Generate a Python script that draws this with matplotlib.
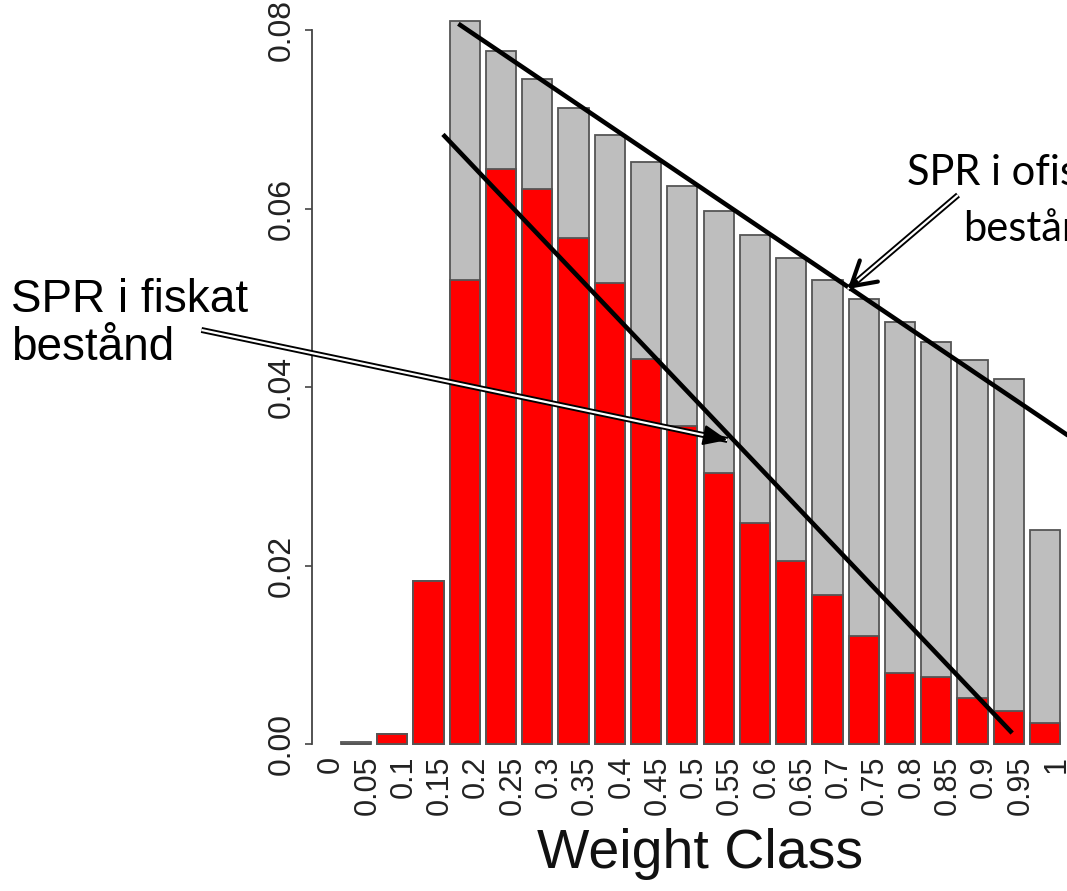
"""
SPR per weight class: unfished (grey) vs fished (red) stock,
with slide-style trend lines and arrows on top.
"""
import matplotlib
matplotlib.use('Agg')
import numpy as np
import matplotlib.pyplot as plt

# ---------------- data ----------------
class_labels = ['0', '0.05', '0.1', '0.15', '0.2', '0.25', '0.3', '0.35', '0.4',
                '0.45', '0.5', '0.55', '0.6', '0.65', '0.7', '0.75', '0.8',
                '0.85', '0.9', '0.95', '1']

# SPR, unfished stock (grey) - one bar per weight bin
spr_unfished = [0.0002, 0.0011, 0.0183, 0.0810, 0.0776, 0.0745, 0.0713,
                0.0682, 0.0652, 0.0625, 0.0597, 0.0570, 0.0545, 0.0520,
                0.0499, 0.0473, 0.0450, 0.0430, 0.0409, 0.0240]

# SPR, fished stock (red)
spr_fished = [0.00005, 0.0011, 0.0183, 0.0520, 0.0644, 0.0622, 0.0567,
              0.0516, 0.0431, 0.0356, 0.0304, 0.0248, 0.0205, 0.0167,
              0.0121, 0.0080, 0.0075, 0.0052, 0.0037, 0.0024]

y_ticks = [0.00, 0.02, 0.04, 0.06, 0.08]

# hand-drawn overlay lines (data coordinates of the bar plot)
upper_line = ([4.09, 24.9], [0.0807, 0.0331])
lower_line = ([3.58, 22.41], [0.0683, 0.00123])
arrow_fished = ((-4.41, 0.04639), (12.99, 0.03406))     # tail, tip
arrow_unfished = ((20.62, 0.06151), (16.97, 0.05098))   # tail, tip

W, H = 1067, 891


def fx(px):
    return px / W


def fy(py):
    return 1 - py / H


fig = plt.figure(figsize=(W / 100, H / 100), dpi=100)
ax = fig.add_axes([fx(312), fy(750), (1089 - 312) / W, 750 / H])

# R barplot geometry: width 1, space 0.2
n = len(spr_unfished)
centers = 0.7 + 1.2 * np.arange(n)
ax.bar(centers, spr_unfished, width=1.0, color='#BEBEBE',
       edgecolor='#555555', linewidth=1.3, zorder=2)
ax.bar(centers, spr_fished, width=1.0, color='#FF0000',
       edgecolor='#555555', linewidth=1.3, zorder=3)

ax.set_xlim(-0.752, 24.952)
ax.set_ylim(-6 / 8925, 744 / 8925)

for s in ['top', 'right', 'bottom']:
    ax.spines[s].set_visible(False)
ax.spines['left'].set_bounds(0, 0.08)
ax.spines['left'].set_color('#444444')
ax.spines['left'].set_linewidth(1.3)

ax.set_yticks(y_ticks)
ax.set_yticklabels([f'{v:.2f}' for v in y_ticks], rotation=90, va='center',
                   fontsize=23, color='#222222', family='Liberation Sans')
ax.tick_params(axis='y', direction='out', length=5, width=1.2,
               color='#444444', pad=6)

ax.set_xticks(1.2 * np.arange(len(class_labels)) - 0.12)
ax.set_xticklabels(class_labels, rotation=90, ha='center', va='top',
                   fontsize=22, color='#222222', family='Liberation Sans')
ax.tick_params(axis='x', length=0, pad=4)

fig.text(fx(700), fy(868), 'Weight Class', ha='center', va='baseline',
         fontsize=40, color='#111111', family='Liberation Sans')

# ---------------- slide annotations ----------------
for xs, ys in (upper_line, lower_line):
    ax.plot(xs, ys, color='black', lw=3.3, solid_capstyle='butt',
            clip_on=False, zorder=5)

for (tail, tip), style in ((arrow_fished, 'filled'), (arrow_unfished, 'open')):
    ax.plot([tail[0], tip[0]], [tail[1], tip[1]], color='black', lw=4.3,
            solid_capstyle='butt', clip_on=False, zorder=6)
    ax.plot([tail[0], tip[0]], [tail[1], tip[1]], color='white', lw=1.6,
            solid_capstyle='butt', clip_on=False, zorder=7)
    # direction in display space for the head
    p0 = ax.transData.transform(tail)
    p1 = ax.transData.transform(tip)
    d = (p0 - p1) / np.hypot(*(p0 - p1))
    if style == 'filled':
        ax.annotate('', xy=tip, xytext=(d[0] * 14, d[1] * 14),
                    textcoords='offset points',
                    arrowprops=dict(arrowstyle='-|>,head_length=0.75,head_width=0.32',
                                    mutation_scale=20, color='black', lw=1.5,
                                    shrinkA=0, shrinkB=0),
                    annotation_clip=False, zorder=8)
    else:
        ax.annotate('', xy=tip, xytext=(d[0] * 8, d[1] * 8),
                    textcoords='offset points',
                    arrowprops=dict(arrowstyle='->,head_length=0.85,head_width=0.5',
                                    mutation_scale=20, color='black', lw=3.0,
                                    shrinkA=0, shrinkB=0, capstyle='round'),
                    annotation_clip=False, zorder=8)

fig.text(fx(11), fy(312), 'SPR i fiskat', ha='left', va='baseline',
         fontsize=33, color='black', family='Liberation Sans')
fig.text(fx(11), fy(360), 'bestånd', ha='left', va='baseline',
         fontsize=33, color='black', family='Liberation Sans')
fig.text(fx(907), fy(185), 'SPR i ofiskat', ha='left', va='baseline',
         fontsize=30, color='black', family='Lato')
fig.text(fx(963), fy(241), 'bestånd', ha='left', va='baseline',
         fontsize=30, color='black', family='Lato')

fig.savefig('out.png', dpi=100)
